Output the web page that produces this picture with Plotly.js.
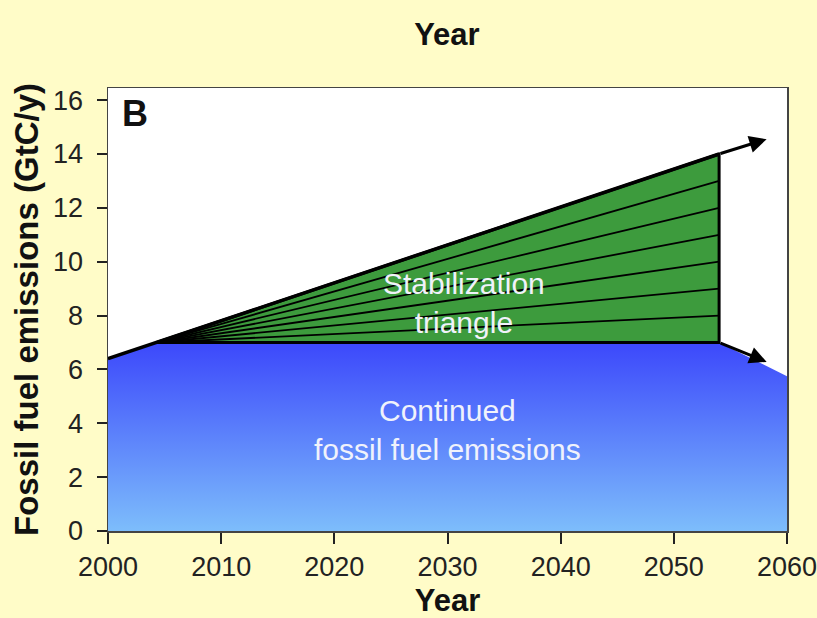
<!DOCTYPE html>
<html>
<head>
<meta charset="utf-8">
<script src="https://cdn.plot.ly/plotly-3.0.1.min.js"></script>
<style>html,body{margin:0;padding:0;background:#fffcc8;}</style>
</head>
<body>
<div id="chart" style="width:817px;height:618px;"></div>
<script>
// Continued fossil fuel emissions (lower blue area)
const baseYears = [2000, 2004.3, 2054, 2060];
const baseValues = [6.4, 7, 7, 5.75];
// Stabilization triangle outline
const triYears = [2004.3, 2054, 2054, 2004.3];
const triValues = [7, 14, 7, 7];
// Upper emissions line (business as usual)
const topYears = [2000, 2054];
const topValues = [6.4, 14];
// Wedge stripe end values at 2054
const stripeStartYear = 2004.3;
const stripeStartValue = 7;
const stripeEndYear = 2054;
const stripeEnds = [8, 9, 10, 11, 12, 13];
// Arrows (tail -> head)
const arrowUpper = {from: [2054, 14], to: [2058.2, 14.55]};
const arrowLower = {from: [2054, 7], to: [2058.2, 6.28]};
const xTicks = [2000, 2010, 2020, 2030, 2040, 2050, 2060];
const yTicks = [0, 2, 4, 6, 8, 10, 12, 14, 16];

const FONT = 'Liberation Sans, Arial, Helvetica, sans-serif';
const traces = [];
traces.push({
  x: baseYears, y: baseValues, type: 'scatter', mode: 'lines',
  fill: 'tozeroy', line: {width: 0, color: 'rgba(0,0,0,0)'},
  fillgradient: {type: 'vertical', colorscale: [[0, '#7dbdfb'], [1, '#3c48fb']]},
  hoverinfo: 'skip'
});
traces.push({
  x: triYears, y: triValues, type: 'scatter', mode: 'lines',
  fill: 'toself', fillcolor: '#3d9b3d', line: {color: '#000', width: 3},
  hoverinfo: 'skip'
});
stripeEnds.forEach(v => {
  traces.push({
    x: [stripeStartYear, stripeEndYear], y: [stripeStartValue, v],
    type: 'scatter', mode: 'lines', line: {color: '#000', width: 1.8},
    hoverinfo: 'skip'
  });
});
traces.push({
  x: topYears, y: topValues, type: 'scatter', mode: 'lines',
  line: {color: '#000', width: 3.5}, hoverinfo: 'skip'
});

const whiteFont = {family: FONT, size: 30, color: '#f0f2fb'};
const annotations = [
  {x: arrowUpper.to[0], y: arrowUpper.to[1], ax: arrowUpper.from[0], ay: arrowUpper.from[1],
   xref: 'x', yref: 'y', axref: 'x', ayref: 'y', showarrow: true, arrowhead: 2,
   arrowsize: 1.15, arrowwidth: 3, arrowcolor: '#000', text: ''},
  {x: arrowLower.to[0], y: arrowLower.to[1], ax: arrowLower.from[0], ay: arrowLower.from[1],
   xref: 'x', yref: 'y', axref: 'x', ayref: 'y', showarrow: true, arrowhead: 2,
   arrowsize: 1.15, arrowwidth: 3, arrowcolor: '#000', text: ''},
  {x: 2031.5, y: 8.47, xref: 'x', yref: 'y', showarrow: false,
   text: 'Stabilization<br>triangle', font: whiteFont, align: 'center'},
  {x: 2030.0, y: 3.75, xref: 'x', yref: 'y', showarrow: false,
   text: 'Continued<br>fossil fuel emissions', font: whiteFont, align: 'center'},
  {x: 2001.1, y: 15.5, xref: 'x', yref: 'y', showarrow: false, xanchor: 'left',
   text: '<b>B</b>', font: {family: FONT, size: 36, color: '#111'}}
];

const layout = {
  width: 817, height: 618,
  paper_bgcolor: '#fffcc8', plot_bgcolor: '#ffffff',
  margin: {l: 108, r: 30, t: 88, b: 87},
  showlegend: false,
  title: {text: '<b>Year</b>', x: 0.547, xanchor: 'center', y: 0.945, yanchor: 'middle',
          font: {family: FONT, size: 31, color: '#111'}},
  xaxis: {
    range: [2000, 2060], tickvals: xTicks, ticktext: xTicks.map(String),
    ticks: 'outside', ticklen: 11, tickwidth: 2, tickcolor: '#222', ticklabeloverflow: 'allow',
    showgrid: false, zeroline: false, showline: true, linecolor: '#444', linewidth: 1.5, mirror: true,
    tickfont: {family: FONT, size: 27, color: '#222'},
    title: {text: '<b>Year</b>', standoff: 8,
            font: {family: FONT, size: 31, color: '#111'}}
  },
  yaxis: {
    range: [0, 16.45], tickvals: yTicks, ticktext: yTicks.map(String),
    ticks: 'outside', ticklen: 10, tickwidth: 2, tickcolor: '#222', ticklabelstandoff: 8,
    showgrid: false, zeroline: false, showline: true, linecolor: '#444', linewidth: 1.5, mirror: true,
    tickfont: {family: FONT, size: 27, color: '#222'},
    title: {text: '<b>Fossil fuel emissions (GtC/y)</b>', standoff: 4,
            font: {family: FONT, size: 33, color: '#111'}}
  },
  annotations: annotations
};

Plotly.newPlot('chart', traces, layout, {displayModeBar: false, staticPlot: true});
</script>
</body>
</html>
